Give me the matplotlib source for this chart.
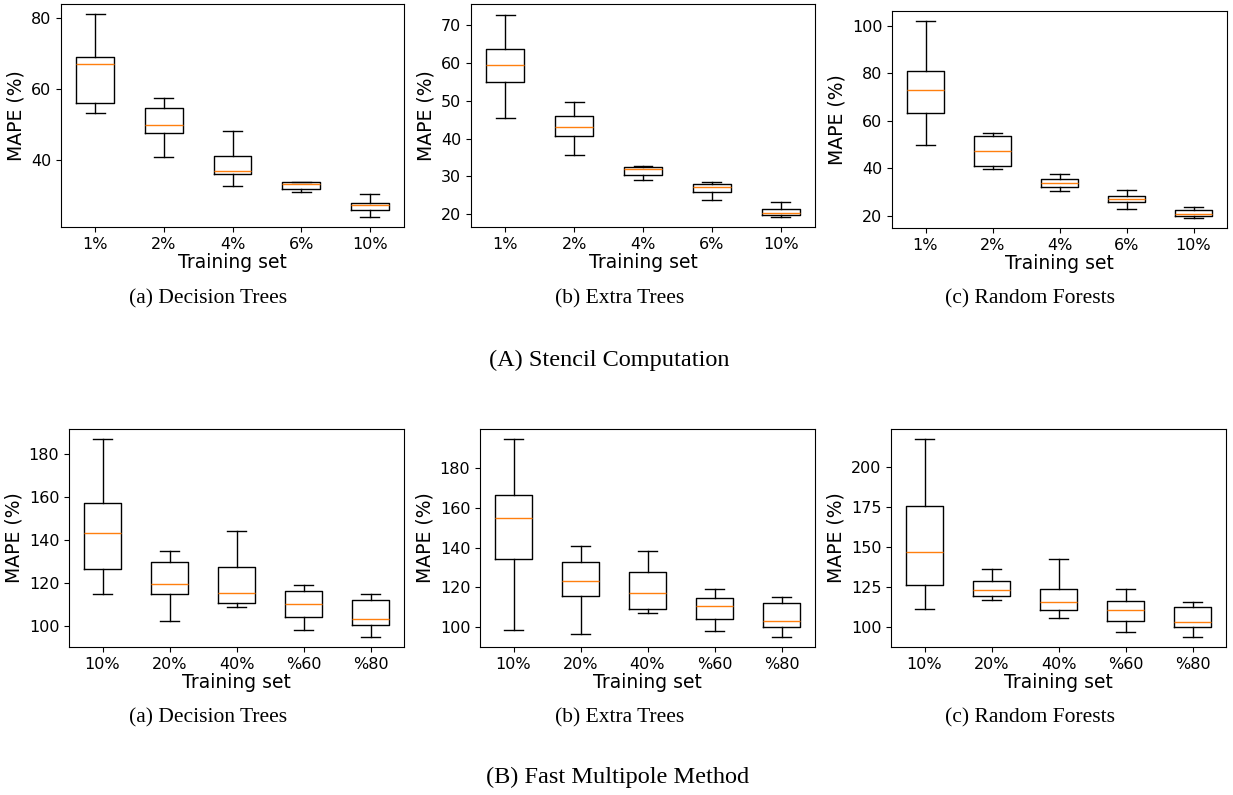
import matplotlib
matplotlib.use('Agg')
import matplotlib.pyplot as plt

# box stats per panel: whisker low, q1, median, q3, whisker high
labels_a = ['1%', '2%', '4%', '6%', '10%']
labels_b = ['10%', '20%', '40%', '%60', '%80']

stencil_dt = [[53.4, 56.2, 67.1, 69.2, 81.1],
              [40.9, 47.6, 50.0, 54.7, 57.6],
              [32.7, 36.1, 37.1, 41.1, 48.1],
              [31.0, 32.0, 33.2, 33.8, 34.0],
              [23.9, 26.1, 27.3, 28.0, 30.4]]
stencil_et = [[45.4, 55.0, 59.6, 63.7, 72.8],
              [35.8, 40.6, 43.0, 45.9, 49.6],
              [29.2, 30.3, 31.9, 32.6, 32.9],
              [23.9, 25.9, 27.3, 28.0, 28.5],
              [19.2, 19.7, 20.4, 21.4, 23.3]]
stencil_rf = [[49.9, 63.4, 72.9, 80.8, 102.0],
              [39.7, 41.0, 47.3, 53.6, 55.0],
              [30.3, 32.2, 33.7, 35.4, 37.5],
              [22.9, 25.9, 27.0, 28.3, 30.6],
              [19.0, 19.9, 20.8, 22.2, 23.8]]
fmm_dt = [[114.7, 126.4, 143.1, 157.2, 186.8],
          [102.5, 114.9, 119.5, 129.8, 134.7],
          [108.7, 110.7, 115.5, 127.4, 143.9],
          [98.0, 104.0, 110.4, 116.4, 119.1],
          [95.0, 100.2, 103.1, 111.9, 115.0]]
fmm_et = [[98.3, 134.1, 155.1, 166.6, 194.6],
          [96.6, 115.6, 123.2, 132.8, 140.7],
          [107.1, 108.9, 117.3, 127.7, 138.3],
          [98.2, 104.2, 110.6, 114.8, 119.0],
          [95.0, 100.2, 103.2, 112.1, 115.1]]
fmm_rf = [[111.1, 126.3, 147.0, 175.8, 217.5],
          [116.9, 119.2, 123.1, 129.0, 136.3],
          [105.4, 110.9, 115.9, 123.8, 142.8],
          [97.1, 104.0, 110.9, 116.5, 123.8],
          [93.9, 100.0, 102.9, 112.5, 115.7]]

W, H = 1233.0, 795.0


def make_stats(rows, labels):
    out = []
    for r, lab in zip(rows, labels):
        out.append(dict(whislo=r[0], q1=r[1], med=r[2], q3=r[3], whishi=r[4],
                        fliers=[], label=lab))
    return out


def panel(rect, rows, labels, ylim, yticks):
    l, t, r, b = rect
    ax = fig.add_axes([l / W, 1 - b / H, (r - l) / W, (b - t) / H])
    ax.bxp(make_stats(rows, labels), showfliers=False, widths=0.55,
           medianprops=dict(color='#ff7f0e'))
    ax.set_ylim(*ylim)
    ax.set_yticks(yticks)
    ax.tick_params(labelsize=11.5)
    ax.set_xlabel('Training set', fontsize=13.5, labelpad=1)
    ax.set_ylabel('MAPE (%)', fontsize=13.5)
    return ax


fig = plt.figure(figsize=(W / 100, H / 100), dpi=100)

panel((61, 4, 404, 227), stencil_dt, labels_a, (21.2, 84), [40, 60, 80])
panel((471, 4, 815, 227), stencil_et, labels_a, (16.65, 75.6), [20, 30, 40, 50, 60, 70])
panel((892, 11, 1227, 228), stencil_rf, labels_a, (14.8, 106.2), [20, 40, 60, 80, 100])
panel((69, 429, 404, 647), fmm_dt, labels_b, (90.2, 191.5), [100, 120, 140, 160, 180])
panel((480, 429, 815, 647), fmm_et, labels_b, (89.9, 199.7), [100, 120, 140, 160, 180])
panel((891, 429, 1226, 647), fmm_rf, labels_b, (87.5, 223.8), [100, 125, 150, 175, 200])

serif = 'Liberation Serif'
subcaps = ['(a) Decision Trees', '(b) Extra Trees', '(c) Random Forests']
xs = [208, 620, 1030]
for x, s in zip(xs, subcaps):
    fig.text(x / W, 1 - 299 / H, s, ha='center', va='center', family=serif, fontsize=15.5)
    fig.text(x / W, 1 - 718 / H, s, ha='center', va='center', family=serif, fontsize=15.5)
fig.text(609 / W, 1 - 360 / H, '(A) Stencil Computation', ha='center', va='center',
         family=serif, fontsize=17.5)
fig.text(618 / W, 1 - 777 / H, '(B) Fast Multipole Method', ha='center', va='center',
         family=serif, fontsize=17.5)

fig.savefig('out.png', dpi=100)
